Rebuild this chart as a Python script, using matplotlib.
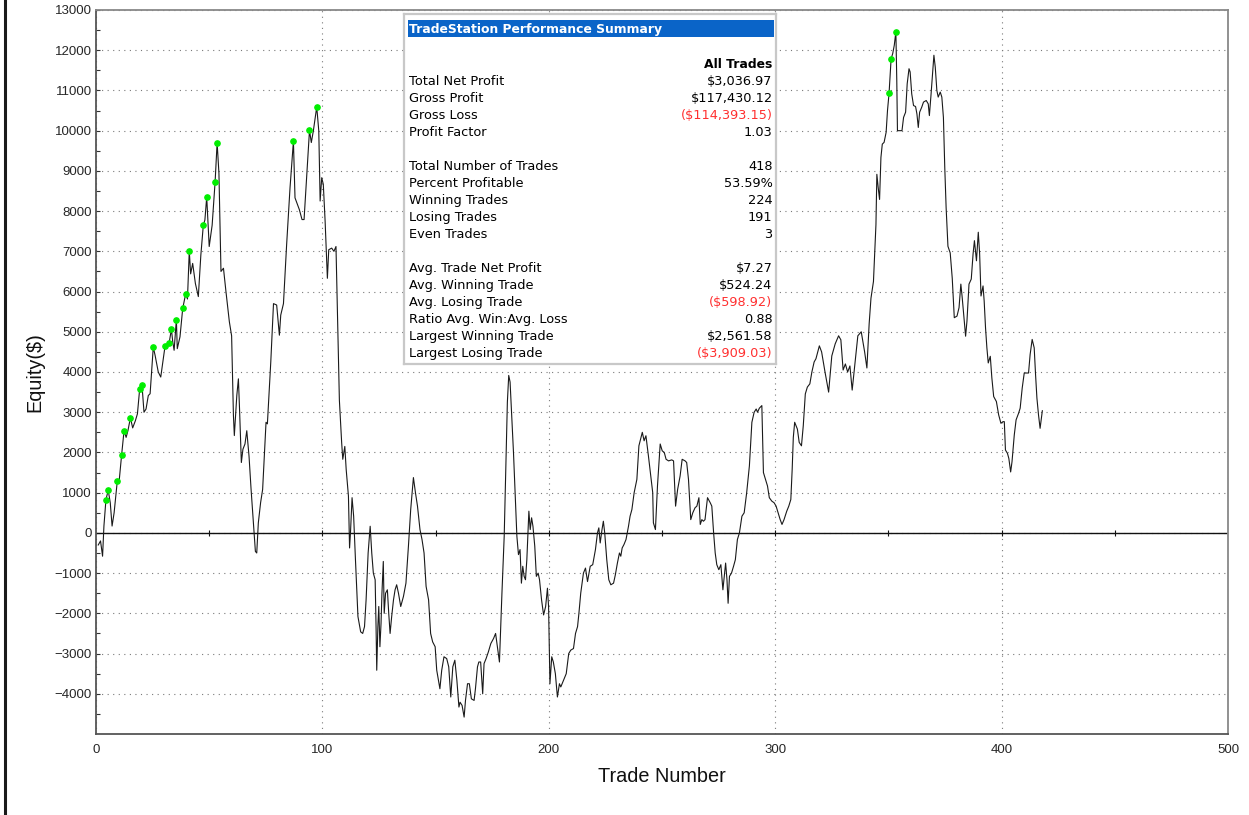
import matplotlib
matplotlib.use("Agg")
import matplotlib.pyplot as plt
from matplotlib.lines import Line2D
from matplotlib.patches import Rectangle

# equity curve vertices (trade number, equity in $)
trade_num = [
    1.0, 2.0, 2.9, 3.5, 4.4, 5.4, 6.3, 7.1, 8.0, 9.4, 10.3, 11.3, 12.4, 13.3, 14.1,
    15.2, 16.2, 17.4, 18.3, 19.3, 20.3, 21.2, 22.1, 23.1, 23.9, 25.3, 26.1, 27.5, 28.6,
    30.5, 32.3, 33.3, 33.9, 34.5, 35.5, 35.9, 37.1, 38.3, 39.6, 40.4, 41.2, 41.8, 42.7,
    43.9, 45.2, 46.3, 47.4, 48.1, 48.9, 50.0, 51.3, 52.6, 53.5, 54.3, 55.2, 56.3, 57.4,
    58.9, 59.9, 60.7, 61.1, 62.2, 62.9, 63.4, 64.2, 64.9, 65.8, 66.6, 67.6, 68.5, 69.5,
    70.4, 71.0, 71.7, 72.7, 73.6, 75.1, 75.7, 77.2, 78.4, 79.8, 81.0, 81.6, 82.8, 84.2,
    85.7, 87.2, 87.9, 89.0, 89.8, 91.0, 91.9, 93.1, 94.3, 95.1, 96.0, 97.5, 98.4, 99.0,
    99.7, 100.4, 101.2, 102.2, 102.8, 104.1, 105.1, 106.0, 106.6, 107.5, 108.5, 109.0,
    109.9, 110.5, 111.5, 112.0, 112.4, 113.1, 113.8, 114.6, 115.7, 116.9, 117.8, 118.6,
    119.3, 120.2, 121.1, 121.8, 122.5, 123.3, 123.7, 124.0, 124.5, 124.9, 125.4, 125.9,
    126.3, 126.9, 127.3, 127.9, 128.7, 129.3, 129.9, 130.6, 131.4, 132.1, 132.8, 133.6,
    134.6, 135.8, 136.9, 138.0, 139.0, 140.2, 141.1, 142.0, 143.1, 144.0, 144.9, 145.8,
    146.9, 147.8, 148.7, 149.8, 150.5, 151.9, 152.7, 153.7, 154.9, 155.8, 156.7, 157.6,
    158.5, 159.4, 160.3, 160.8, 161.7, 162.6, 163.2, 164.1, 164.9, 165.8, 167.0, 167.6,
    168.5, 169.1, 169.9, 170.8, 171.4, 172.3, 173.3, 174.4, 175.6, 176.5, 177.3, 178.2,
    179.3, 180.3, 181.1, 181.7, 182.3, 182.9, 183.6, 184.4, 185.1, 185.9, 186.6, 187.3,
    187.9, 188.5, 189.1, 189.7, 190.3, 191.2, 191.8, 192.4, 193.0, 193.8, 194.5, 195.3,
    195.9, 196.8, 197.7, 198.6, 199.4, 199.9, 200.5, 201.3, 202.0, 202.9, 203.8, 204.7,
    205.3, 206.5, 207.7, 208.8, 209.7, 210.9, 211.8, 212.7, 213.3, 214.1, 215.3, 216.2,
    217.1, 218.3, 219.4, 220.6, 221.5, 222.1, 222.7, 223.5, 224.1, 224.7, 225.6, 226.5,
    227.4, 228.6, 229.4, 230.3, 231.2, 231.8, 232.4, 233.2, 234.1, 235.2, 235.9, 236.7,
    237.7, 238.9, 239.8, 241.3, 242.1, 242.9, 244.0, 245.9, 246.2, 247.1, 248.0, 249.2,
    250.1, 251.0, 251.8, 252.9, 254.3, 255.1, 256.0, 256.9, 258.0, 258.9, 260.2, 260.9,
    261.7, 262.7, 263.6, 264.6, 265.4, 266.3, 266.9, 267.6, 268.3, 269.0, 270.1, 271.3,
    272.0, 272.8, 273.5, 274.2, 275.1, 276.0, 276.9, 277.5, 278.1, 278.7, 279.2, 279.8,
    280.7, 281.6, 282.4, 283.3, 284.2, 285.3, 286.3, 287.4, 288.6, 289.7, 290.7, 291.6,
    292.2, 293.0, 294.1, 294.8, 295.7, 296.6, 297.4, 298.5, 299.5, 300.4, 301.3, 302.2,
    303.0, 303.9, 305.1, 306.0, 306.9, 307.5, 308.0, 308.6, 309.8, 310.6, 311.6, 312.4,
    313.3, 314.2, 315.3, 316.2, 317.2, 318.0, 319.5, 320.5, 322.0, 323.6, 325.0, 326.5,
    328.0, 329.0, 330.0, 331.0, 332.0, 333.0, 334.0, 335.0, 336.5, 338.0, 339.5, 340.5,
    341.5, 342.3, 343.4, 344.5, 344.9, 345.5, 346.1, 346.7, 347.3, 348.1, 349.0, 349.6,
    350.3, 351.2, 351.9, 352.6, 353.3, 353.7, 354.0, 354.9, 356.0, 356.7, 357.6, 358.3,
    359.1, 359.6, 360.3, 361.1, 362.0, 362.6, 363.2, 363.8, 364.7, 365.5, 366.7, 367.6,
    368.1, 368.8, 369.5, 370.1, 370.7, 371.4, 372.0, 372.9, 373.6, 374.3, 374.9, 375.5,
    376.3, 377.3, 378.2, 379.1, 380.3, 381.2, 382.0, 382.6, 383.5, 384.1, 384.7, 385.6,
    386.6, 387.4, 388.0, 388.9, 389.7, 390.3, 390.9, 391.8, 392.3, 392.9, 393.5, 394.1,
    395.0, 395.7, 396.5, 397.7, 398.7, 399.7, 400.6, 401.2, 401.7, 402.6, 403.2, 404.0,
    404.6, 405.6, 406.4, 407.5, 408.2, 409.1, 410.0, 411.1, 411.9, 412.6, 413.5, 414.4,
    415.0, 415.6, 416.3, 417.0, 418.0,
]
equity = [
    -300, -200, -580, 170, 830, 1060, 750, 170, 500, 1285, 1330, 1930, 2545, 2375, 2540,
    2860, 2610, 2790, 2960, 3585, 3685, 3000, 3080, 3415, 3460, 4620, 4415, 4000, 3875,
    4645, 4720, 5065, 4750, 4540, 5300, 4580, 4875, 5580, 5940, 5815, 7010, 6440, 6700,
    6200, 5875, 6900, 7650, 7780, 8350, 7120, 7650, 8720, 9700, 8940, 6500, 6580, 6000,
    5250, 4900, 2920, 2420, 3420, 3830, 3080, 1750, 2080, 2210, 2540, 1900, 1080, 250,
    -460, -500, 250, 750, 1080, 2750, 2710, 4250, 5700, 5665, 4915, 5415, 5700, 7165,
    8580, 9740, 8330, 8165, 8040, 7790, 7790, 8915, 10010, 9705, 9995, 10590, 9995, 8250,
    8830, 8665, 7750, 6330, 7040, 7080, 7000, 7120, 5600, 3300, 2250, 1830,
    2150, 1580, 915, -375, 0, 875, 415, -665, -2080, -2460, -2500, -2330,
    -1665, -500, 165, -500, -1000, -1165, -2330, -3415, -2330, -1830, -2830, -2250,
    -1500, -710, -2000, -1500, -1415, -2000, -2500, -2080, -1665, -1415, -1290, -1500,
    -1830, -1580, -1250, -330, 580, 1375, 1000, 665, 83, -165, -500, -1330,
    -1665, -2500, -2710, -2830, -3415, -3875, -3415, -3080, -3125, -3330, -4080, -3330,
    -3165, -3665, -4330, -4210, -4290, -4580, -4165, -3750, -3750, -4125, -4165, -3875,
    -3330, -3210, -3210, -4000, -3250, -3125, -2960, -2750, -2625, -2500, -2830, -3210,
    -1500, -83, 1830, 3250, 3915, 3750, 2915, 2000, 1000, -83, -540, -415,
    -1250, -830, -1080, -1165, -665, 540, 83, 375, 165, -330, -1080, -1000,
    -1165, -1665, -2040, -1830, -1375, -1830, -3750, -3080, -3210, -3500, -4080, -3750,
    -3830, -3665, -3500, -3000, -2915, -2875, -2500, -2330, -2000, -1500, -1000, -875,
    -1210, -830, -790, -415, 0, 125, -250, 83, 290, 0, -665, -1165,
    -1290, -1250, -1040, -750, -500, -580, -375, -290, -165, 165, 415, 580,
    1000, 1330, 2165, 2500, 2290, 2415, 1915, 1000, 250, 83, 1165, 2210,
    2040, 2000, 1830, 1790, 1815, 1790, 665, 1080, 1415, 1830, 1790, 1750,
    1330, 330, 500, 625, 665, 875, 210, 330, 290, 330, 875, 750,
    665, 0, -500, -790, -915, -790, -1415, -1080, -750, -1165, -1750, -1080,
    -1000, -830, -665, -165, 0, 415, 500, 1000, 1665, 2750, 3000, 3080,
    3000, 3100, 3165, 1500, 1330, 1165, 875, 790, 750, 665, 500, 330,
    210, 330, 540, 665, 830, 1580, 2375, 2750, 2580, 2250, 2165, 2665,
    3455, 3625, 3705, 4000, 4250, 4330, 4650, 4500, 4000, 3500, 4400, 4700,
    4900, 4800, 4050, 4200, 4000, 4150, 3550, 4100, 4900, 5000, 4500, 4100,
    5200, 5835, 6250, 7665, 8915, 8580, 8290, 9335, 9665, 9710, 9960, 10500,
    10935, 11790, 11915, 12125, 12460, 11250, 10000, 10000, 10000, 10330, 10460, 11165,
    11540, 11460, 10915, 10625, 10600, 10415, 10080, 10460, 10580, 10710, 10750, 10665,
    10375, 10875, 11415, 11875, 11580, 11000, 10835, 10960, 10835, 10330, 9080, 8080,
    7125, 6960, 6330, 5350, 5390, 5600, 6185, 5850, 5265, 4890, 5265, 6185,
    6310, 6935, 7265, 6765, 7475, 6935, 5890, 6140, 5765, 5100, 4600, 4225,
    4390, 3850, 3390, 3265, 2935, 2725, 2765, 2765, 2060, 1975, 1850, 1515,
    1770, 2435, 2810, 2975, 3100, 3600, 3975, 3975, 3975, 4435, 4810, 4600,
    3935, 3350, 2935, 2600, 3037,
]

# new equity highs (green dots)
high_trade = [4.4, 5.4, 9.4, 11.3, 12.4, 15.2, 19.3, 20.3, 25.3, 30.5, 32.3, 33.3, 35.5,
              38.3, 39.6, 41.2, 47.4, 48.9, 52.6, 53.5, 87.2, 94.3, 97.5, 350.3, 351.2, 353.3]
high_equity = [830, 1060, 1285, 1930, 2545, 2860, 3585, 3685, 4620, 4645, 4720, 5065, 5300,
               5580, 5940, 7010, 7650, 8350, 8720, 9700, 9740, 10010, 10590, 10935, 11790, 12460]

summary_title = "TradeStation Performance Summary"
summary_column = "All Trades"
summary_labels = [
    "Total Net Profit", "Gross Profit", "Gross Loss", "Profit Factor", "",
    "Total Number of Trades", "Percent Profitable", "Winning Trades", "Losing Trades",
    "Even Trades", "",
    "Avg. Trade Net Profit", "Avg. Winning Trade", "Avg. Losing Trade",
    "Ratio Avg. Win:Avg. Loss", "Largest Winning Trade", "Largest Losing Trade",
]
summary_values = [
    "$3,036.97", "$117,430.12", "($114,393.15)", "1.03", "",
    "418", "53.59%", "224", "191", "3", "",
    "$7.27", "$524.24", "($598.92)", "0.88", "$2,561.58", "($3,909.03)",
]

W, H = 1249, 815
fig = plt.figure(figsize=(W / 100, H / 100), dpi=100)
ax = fig.add_axes([96 / W, 1 - 734 / H, 1132 / W, 724 / H])

tick_font = dict(family="Liberation Sans", size=9.5, color="#262626")

ax.plot(trade_num, equity, color="#1a1a1a", lw=0.8, zorder=3)
ax.plot(high_trade, high_equity, ls="none", marker="o", ms=3.8,
        color="#00ee00", mec="#00ee00", zorder=4)

ax.set_xlim(0, 500)
ax.set_ylim(-5000, 13000)
ax.set_xticks(range(0, 501, 100))
ax.set_yticks(range(-4000, 13001, 1000))
ax.set_yticks(range(-4500, 13000, 1000), minor=True)
ax.grid(True, which="major", color="#7a7a7a", lw=0.8, ls=(0, (1, 4)))

ax.axhline(0, color="#111111", lw=1.0, zorder=2)
ax.plot(range(50, 500, 50), [0] * 9, ls="none", marker="|", ms=5, mew=0.8,
        color="#111111", zorder=2)

ax.tick_params(axis="y", which="both", direction="in", length=3, width=0.8,
               color="#333333", pad=3)
ax.tick_params(axis="x", length=0, pad=7)
for lab in ax.get_xticklabels() + ax.get_yticklabels():
    lab.set_fontfamily(tick_font["family"])
    lab.set_fontsize(tick_font["size"])
    lab.set_color(tick_font["color"])

for side, s in ax.spines.items():
    s.set_color("#555555" if side in ("left", "bottom") else "#888888")
    s.set_linewidth(1.3)

ax.set_ylabel("Equity($)", family="Liberation Sans", fontsize=14.3, color="#111111")
ax.yaxis.label.set_verticalalignment("center")
ax.yaxis.set_label_coords(-61 / 1132, 0.5)
ax.set_xlabel("Trade Number", family="Liberation Sans", fontsize=14.3, color="#111111")
ax.xaxis.label.set_verticalalignment("center")
ax.xaxis.set_label_coords(0.5, -43 / 724)

# performance summary box
box = fig.add_axes([404 / W, 1 - 364 / H, 372 / W, 350 / H])
box.set_xlim(0, 372)
box.set_ylim(350, 0)
box.set_xticks([])
box.set_yticks([])
for s in box.spines.values():
    s.set_color("#c8c8c8")
    s.set_linewidth(1.6)
box.add_patch(Rectangle((4, 6), 366, 17, color="#0a64c8", lw=0))
tfont = dict(family="DejaVu Sans", size=9.3)
bfont = dict(family="DejaVu Sans", size=8.9, weight="bold")
box.text(5, 19.3, summary_title, color="white", va="baseline", **bfont)
box.text(368.5, 54.3, summary_column, color="black", va="baseline", ha="right", **bfont)
for i, (lab, val) in enumerate(zip(summary_labels, summary_values)):
    y = 71.3 + 17 * i
    box.text(5, y, lab, color="black", va="baseline", **tfont)
    box.text(368.5, y, val, color="#ff3030" if val.startswith("(") else "black",
             va="baseline", ha="right", **tfont)

fig.add_artist(Line2D([4.5 / W, 4.5 / W], [0, 1], transform=fig.transFigure,
                      color="#1a1a1a", lw=2.2))

fig.savefig("out.png", dpi=100)
